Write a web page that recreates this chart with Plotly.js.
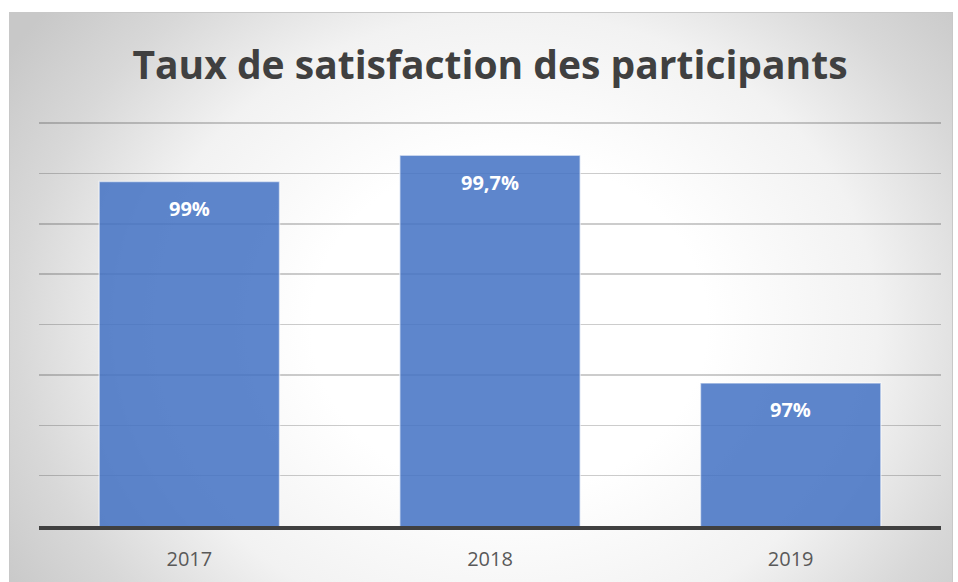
<!DOCTYPE html>
<html>
<head>
<meta charset="utf-8">
<script src="https://cdn.plot.ly/plotly-3.0.1.min.js"></script>
<style>
  html, body { margin: 0; padding: 0; background: #ffffff; overflow: hidden; }
  #frame {
    position: absolute; left: 9px; top: 12px; width: 942px; height: 600px;
    border: 1px solid #c8c8c8;
    background: radial-gradient(ellipse 60% 80% at 53% 52%, #ffffff 0%, #ffffff 35%, #f2f2f2 65%, #d8d8d8 87%, #c8c8c8 105%);
  }
  #chart { position: absolute; left: 0; top: 0; width: 958px; height: 582px; }
</style>
</head>
<body>
<div id="frame"></div>
<div id="chart"></div>
<script>
// categories and values
const years = ['2017', '2018', '2019'];
const barValues = [99.02, 99.28, 97.02];
const barLabels = ['99%', '99,7%', '97%'];

const data = [{
    type: 'bar',
    x: years,
    y: barValues,
    marker: {
        color: 'rgba(68, 114, 196, 0.86)',
        line: { color: 'rgba(255, 255, 255, 0.55)', width: 1.5 },
    },
    hoverinfo: 'none',
}];

// data labels sit just below the top of each bar
const annotations = years.map((yr, i) => ({
    x: i,
    y: barValues[i],
    xref: 'x',
    yref: 'y',
    text: '<b>' + barLabels[i] + '</b>',
    showarrow: false,
    yanchor: 'middle',
    yshift: -27,
    font: { family: 'Open Sans', size: 20, color: '#ffffff' },
}));

const layout = {
    width: 958,
    height: 582,
    margin: { l: 39, r: 17, t: 122, b: 56, pad: 0 },
    title: {
        text: '<b>Taux de satisfaction des participants</b>',
        font: { family: 'Open Sans', size: 39, color: '#404040' },
        x: 0.5,
        xref: 'paper',
        y: 1 - 65 / 582,
        yref: 'container',
        yanchor: 'middle',
    },
    xaxis: {
        type: 'category',
        range: [-0.5, 2.5],
        showgrid: false,
        showline: true,
        linecolor: '#404040',
        linewidth: 4,
        ticks: '',
        ticklabelstandoff: 12,
        tickfont: { family: 'Open Sans', size: 20, color: '#595959' },
    },
    yaxis: {
        range: [95.6, 99.61],
        tick0: 95.6,
        dtick: 0.5,
        showticklabels: false,
        gridcolor: 'rgba(0, 0, 0, 0.2)',
        gridwidth: 1.5,
        zeroline: false,
    },
    bargap: 0.4,
    annotations: annotations,
    paper_bgcolor: 'rgba(0,0,0,0)',
    plot_bgcolor: 'rgba(0,0,0,0)',
    showlegend: false,
};

const config = { staticPlot: true, displayModeBar: false };

Plotly.newPlot('chart', data, layout, config);
</script>
</body>
</html>
